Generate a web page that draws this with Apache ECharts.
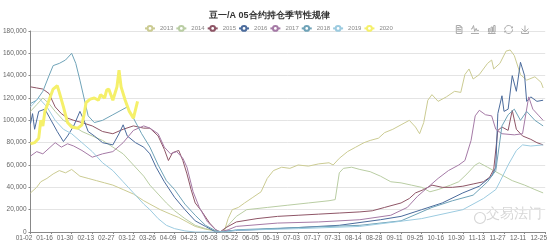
<!DOCTYPE html>
<html><head><meta charset="utf-8">
<script src="https://cdn.jsdelivr.net/npm/echarts@6/dist/echarts.min.js"></script>
<style>html,body{margin:0;padding:0;background:#fff}#c{width:550px;height:245px}</style>
</head><body><div id="c"></div>
<script>
var tickLabels = ['01-02','01-16','01-30','02-13','02-27','03-12','03-26','04-09','04-23','05-08','05-22','06-05','06-19','07-03','07-17','07-31','08-14','08-28','09-11','09-25','10-16','10-30','11-13','11-27','12-11','12-25'];
var years = ['2013','2014','2015','2016','2017','2018','2019','2020'];

// [trading-day index, open interest]
var s2013 = [[0,35000],[3,40000],[5,45000],[8,48000],[11,52000],[14,55000],[17,53000],[20,56000],[24,50000],[28,48000],[32,46000],[36,44000],[40,42000],[45,38000],[50,34000],[55,28000],[58,25000],[63,20000],[68,16000],[72,13000],[76,9000],[80,5000],[85,2500],[90,1000],[94,0],[96,12000],[98,20000],[101,22000],[104,26000],[108,31000],[112,36000],[115,48000],[118,55000],[122,58000],[126,57000],[130,60000],[135,59000],[140,61000],[145,62000],[147,60000],[150,66000],[154,72000],[158,76000],[162,80000],[165,82000],[169,84000],[172,89000],[176,92000],[180,96000],[184,100000],[187,94000],[189,88000],[191,98000],[193,118000],[195,123000],[198,117000],[202,121000],[206,126000],[209,125000],[211,141000],[213,146000],[215,137000],[218,141000],[222,151000],[224,154000],[225,146000],[228,151000],[231,162000],[233,163000],[235,158000],[238,141000],[241,136000],[245,139000],[248,134000],[249,129000]];
var s2014 = [[0,108000],[3,114000],[6,120000],[9,115000],[12,108000],[16,100000],[20,96000],[25,90000],[30,86000],[35,82000],[40,76000],[45,70000],[50,60000],[55,50000],[58,42000],[62,34000],[66,26000],[70,19000],[75,12000],[80,6000],[85,3000],[90,1000],[93,0],[96,6000],[100,14000],[105,20000],[110,21000],[115,22000],[125,24000],[135,26000],[145,28000],[148,29000],[150,53000],[152,57000],[156,58000],[160,56000],[165,54000],[170,50000],[175,45000],[180,44000],[185,42000],[190,40000],[194,36000],[198,38000],[204,42000],[208,45000],[212,52000],[216,60000],[218,62000],[222,58000],[228,52000],[234,46000],[240,42000],[245,38000],[249,35000]];
var s2015 = [[0,130000],[3,129000],[6,128000],[9,124000],[12,112000],[15,106000],[18,102000],[21,100000],[25,98000],[30,95000],[35,90000],[40,88000],[45,92000],[50,95000],[55,93000],[58,93000],[62,86000],[65,74000],[67,64000],[69,71000],[72,73000],[74,64000],[76,52000],[78,38000],[80,26000],[83,19000],[87,8000],[90,2000],[92,0],[95,4000],[100,9000],[110,12000],[120,14000],[130,15000],[140,16000],[150,17000],[160,18000],[166,19000],[172,22000],[180,26000],[184,30000],[187,35000],[191,38000],[195,42000],[200,40000],[205,40000],[210,41000],[215,43000],[220,45000],[223,49000],[225,56000],[227,91000],[229,94000],[232,91000],[234,109000],[236,92000],[239,86000],[243,83000],[246,80000],[249,78000]];
var s2016 = [[0,97000],[1,106000],[2,92000],[4,108000],[7,110000],[10,100000],[13,90000],[16,81000],[18,86000],[21,95000],[24,108000],[26,100000],[28,90000],[31,86000],[35,80000],[40,78000],[43,88000],[45,96000],[47,86000],[51,80000],[55,76000],[58,70000],[61,58000],[65,45000],[70,31000],[75,20000],[80,10000],[85,5000],[90,0],[96,1000],[120,3000],[150,6000],[170,11000],[180,14000],[190,20000],[200,26000],[210,35000],[218,41000],[224,50000],[226,58000],[227,106000],[229,122000],[230,108000],[232,110000],[234,140000],[236,126000],[238,152000],[240,140000],[241,117000],[243,121000],[246,117000],[249,118000]];
var s2017 = [[0,68000],[3,72000],[6,70000],[9,75000],[12,80000],[15,76000],[18,79000],[21,77000],[25,73000],[30,67000],[35,70000],[40,72000],[45,80000],[50,91000],[55,95000],[58,93000],[62,88000],[65,76000],[68,70000],[71,72000],[74,66000],[76,58000],[79,36000],[82,22000],[86,9000],[90,2000],[92,0],[96,2000],[100,5000],[120,8000],[140,9000],[160,11000],[175,15000],[183,22000],[188,32000],[193,40000],[198,48000],[203,55000],[208,60000],[211,64000],[214,82000],[216,104000],[218,109000],[221,105000],[224,104000],[226,92000],[229,88000],[235,87000],[239,88000],[242,121000],[244,110000],[247,104000],[249,100000]];
var s2018 = [[0,115000],[3,118000],[6,126000],[9,140000],[11,149000],[14,151000],[17,154000],[20,160000],[22,151000],[24,136000],[26,120000],[28,104000],[31,98000],[35,100000],[40,105000],[43,108000],[47,112000],[50,102000],[54,88000],[58,76000],[62,60000],[66,46000],[70,38000],[75,25000],[80,15000],[85,6000],[90,1000],[94,0],[100,2000],[130,4000],[160,6000],[180,10000],[195,22000],[205,28000],[215,33000],[222,45000],[226,55000],[229,95000],[232,105000],[235,110000],[238,100000],[241,108000],[245,100000],[249,95000]];
var s2019 = [[0,112000],[4,120000],[8,112000],[12,100000],[16,92000],[20,88000],[25,80000],[30,72000],[35,62000],[40,55000],[45,45000],[50,35000],[55,25000],[58,20000],[62,12000],[66,6000],[70,3000],[75,1000],[80,0],[95,0],[100,1500],[130,3000],[160,5000],[190,12000],[210,20000],[220,30000],[226,38000],[228,45000],[232,60000],[236,73000],[239,78000],[243,77000],[249,78000]];
var s2020 = [[0,79000],[2,80000],[4,84000],[5,100000],[6,95000],[7,108000],[9,118000],[11,128000],[13,131000],[14,125000],[16,112000],[18,98000],[20,94000],[23,93000],[25,96000],[26,105000],[27,116000],[29,119000],[31,120000],[33,118000],[34,123000],[36,120000],[37,127000],[38,128000],[40,118000],[42,130000],[43,145000],[44,130000],[46,118000],[48,108000],[50,102000],[52,117000]];

var seriesData = [s2013, s2014, s2015, s2016, s2017, s2018, s2019, s2020];
var colors = ['#cbcb92','#b9cda3','#8e5566','#4b6b9c','#a57aa6','#6fa3b8','#9ccbe0','#f5f06a'];

var chart = echarts.init(document.getElementById('c'), null, {renderer:'canvas'});
var series = years.map(function(y, i){
  return {
    name: y, type: 'line', data: seriesData[i], showSymbol: false, symbol: 'emptyCircle',
    lineStyle: {width: y === '2020' ? 3 : 1, color: colors[i]},
    itemStyle: {color: colors[i]}
  };
});
chart.setOption({
  animation: false,
  color: colors,
  title: {text: '豆一/A 05合约持仓季节性规律', left: 204, top: 6,
    textStyle: {fontSize: 9, fontWeight: 'bold', color: '#333'}},
  legend: {data: years, left: 139, top: 20, itemWidth: 10, itemHeight: 6, itemGap: 2,
    textStyle: {fontSize: 6, color: '#888'}},
  toolbox: {right: 4, top: 8, itemSize: 8, itemGap: 4,
    iconStyle: {borderColor: '#aaa'},
    feature: {dataView: {}, magicType: {type: ['line','bar']}, restore: {}, saveAsImage: {}}},
  grid: {left: 30, right: 2, top: 31, bottom: 13},
  xAxis: {type: 'value', min: 0, max: 250, interval: 10,
    axisLine: {lineStyle: {color: '#888'}}, axisTick: {length: 2, lineStyle: {color: '#888'}},
    splitLine: {show: false},
    axisLabel: {margin: 3, color: '#666', fontSize: 6.5,
      formatter: function(v){ var t = tickLabels[Math.round(v/10)]; return t ? '{a|' + t + '}' : ''; },
      rich: {a: {fontSize: 6.5, color: '#666', padding: [0, 13, 0, 0]}}}},
  yAxis: {type: 'value', min: 0, max: 180000, interval: 20000,
    axisLine: {show: true, lineStyle: {color: '#888'}}, axisTick: {show: true, length: 2, lineStyle: {color: '#888'}},
    splitLine: {lineStyle: {color: '#e4e4e4'}},
    axisLabel: {margin: 4, color: '#666', fontSize: 6.5,
      formatter: function(v){ return v.toLocaleString('en-US'); }}},
  graphic: [{type: 'text', left: 486, top: 207, style: {text: '交易法门', fontSize: 14, fill: '#d6d6d6'}},
            {type: 'circle', left: 472, top: 210, shape: {r: 5.5}, style: {fill: 'none', stroke: '#d6d6d6', lineWidth: 1.2}}],
  series: series
});
</script></body></html>
